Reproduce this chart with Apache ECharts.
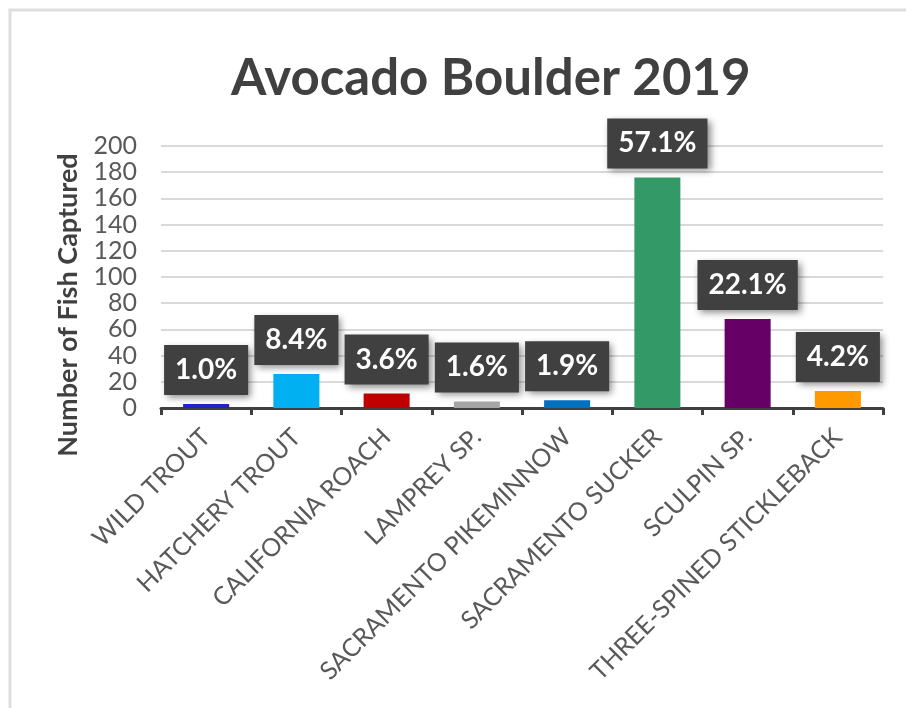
<!DOCTYPE html>
<html>
<head>
<meta charset="utf-8">
<script src="https://cdn.jsdelivr.net/npm/echarts@6/dist/echarts.min.js"></script>
<style>
  html, body { margin: 0; padding: 0; background: #fff; }
  #chart { width: 906px; height: 708px; }
</style>
</head>
<body>
<div id="chart"></div>
<script>
  var categories = ['WILD TROUT', 'HATCHERY TROUT', 'CALIFORNIA ROACH', 'LAMPREY SP.',
    'SACRAMENTO PIKEMINNOW', 'SACRAMENTO SUCKER', 'SCULPIN SP.', 'THREE-SPINED STICKLEBACK'];
  var counts = [3, 26, 11, 5, 6, 176, 68, 13];
  var barColors = ['#2222CC', '#00B0F0', '#C00000', '#A5A5A5', '#0070C0', '#339966', '#660066', '#FF9900'];
  var yTicks = { min: 0, max: 200, interval: 20 };

  var total = counts.reduce(function (a, b) { return a + b; }, 0);
  var chart = echarts.init(document.getElementById('chart'));

  var option = {
    backgroundColor: '#fff',
    title: {
      text: 'Avocado Boulder 2019',
      left: 226,
      top: 48,
      textStyle: { fontFamily: 'Lato', fontWeight: 'bold', fontSize: 51, color: '#404040' }
    },
    graphic: [
      {
        type: 'rect',
        shape: { x: 10, y: 10, width: 1000, height: 1000 },
        style: { fill: 'none', stroke: '#DEDEDE', lineWidth: 3 },
        silent: true
      },
      {
        type: 'text',
        x: 68, y: 305,
        rotation: Math.PI / 2,
        style: {
          text: 'Number of Fish Captured',
          font: 'bold 27px Lato',
          fill: '#404040',
          align: 'center',
          verticalAlign: 'middle'
        }
      }
    ],
    grid: { left: 161, right: 23, top: 146, bottom: 300 },
    xAxis: {
      type: 'category',
      data: categories,
      axisLine: { lineStyle: { color: '#404040', width: 3 } },
      axisTick: { show: true, length: 7, lineStyle: { color: '#404040', width: 3 } },
      axisLabel: {
        rotate: 45,
        margin: 25,
        interval: 0,
        fontFamily: 'Lato',
        fontSize: 25,
        color: '#595959'
      }
    },
    yAxis: {
      type: 'value',
      min: yTicks.min,
      max: yTicks.max,
      interval: yTicks.interval,
      axisLine: { show: false },
      axisTick: { show: false },
      axisLabel: { margin: 24, fontFamily: 'Lato', fontSize: 25, color: '#595959' },
      splitLine: { lineStyle: { color: '#D9D9D9', width: 2 } }
    },
    series: [{
      type: 'bar',
      barWidth: '51%',
      data: counts.map(function (v, i) {
        return { value: v, itemStyle: { color: barColors[i] } };
      }),
      label: {
        show: true,
        position: 'top',
        distance: 9,
        formatter: function (p) { return (p.value / total * 100).toFixed(1) + '%'; },
        fontFamily: 'Lato',
        fontWeight: 'bold',
        fontSize: 28,
        color: '#fff',
        backgroundColor: '#404040',
        padding: [11, 11, 11, 11],
        shadowBlur: 7,
        shadowColor: 'rgba(0,0,0,0.45)',
        shadowOffsetX: 3,
        shadowOffsetY: 3
      }
    }]
  };
  chart.setOption(option);
</script>
</body>
</html>
